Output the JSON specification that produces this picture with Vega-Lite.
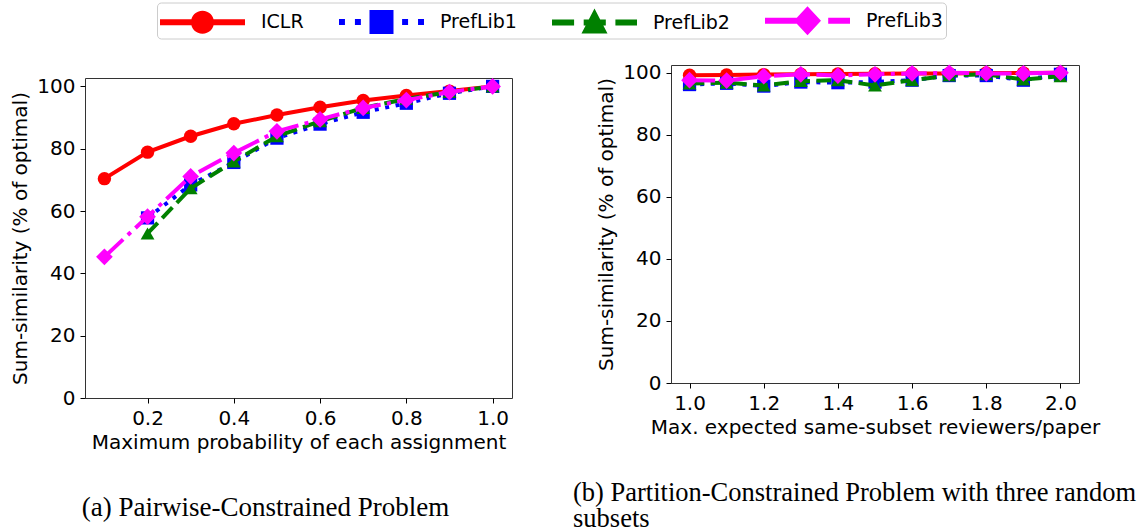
{
  "$schema": "https://vega.github.io/schema/vega-lite/v6.json",
  "padding": {"left": 10, "top": 2, "right": 0, "bottom": 0},
  "background": "white",
  "datasets": {
    "a": [
      {"series": "ICLR", "x": 0.1, "y": 70.4}, {"series": "ICLR", "x": 0.2, "y": 78.9}, {"series": "ICLR", "x": 0.3, "y": 84.0}, {"series": "ICLR", "x": 0.4, "y": 88.0}, {"series": "ICLR", "x": 0.5, "y": 90.8}, {"series": "ICLR", "x": 0.6, "y": 93.3}, {"series": "ICLR", "x": 0.7, "y": 95.5}, {"series": "ICLR", "x": 0.8, "y": 97.1}, {"series": "ICLR", "x": 0.9, "y": 98.5}, {"series": "ICLR", "x": 1.0, "y": 100},
      {"series": "PrefLib1", "x": 0.2, "y": 57.8}, {"series": "PrefLib1", "x": 0.3, "y": 68.4}, {"series": "PrefLib1", "x": 0.4, "y": 75.6}, {"series": "PrefLib1", "x": 0.5, "y": 83.4}, {"series": "PrefLib1", "x": 0.6, "y": 87.9}, {"series": "PrefLib1", "x": 0.7, "y": 91.7}, {"series": "PrefLib1", "x": 0.8, "y": 94.6}, {"series": "PrefLib1", "x": 0.9, "y": 97.8}, {"series": "PrefLib1", "x": 1.0, "y": 100},
      {"series": "PrefLib2", "x": 0.2, "y": 52.8}, {"series": "PrefLib2", "x": 0.3, "y": 67.3}, {"series": "PrefLib2", "x": 0.4, "y": 75.9}, {"series": "PrefLib2", "x": 0.5, "y": 84.0}, {"series": "PrefLib2", "x": 0.6, "y": 88.8}, {"series": "PrefLib2", "x": 0.7, "y": 93.1}, {"series": "PrefLib2", "x": 0.8, "y": 96.0}, {"series": "PrefLib2", "x": 0.9, "y": 98.2}, {"series": "PrefLib2", "x": 1.0, "y": 100},
      {"series": "PrefLib3", "x": 0.1, "y": 45.3}, {"series": "PrefLib3", "x": 0.2, "y": 58.2}, {"series": "PrefLib3", "x": 0.3, "y": 71.1}, {"series": "PrefLib3", "x": 0.4, "y": 78.6}, {"series": "PrefLib3", "x": 0.5, "y": 85.6}, {"series": "PrefLib3", "x": 0.6, "y": 89.4}, {"series": "PrefLib3", "x": 0.7, "y": 93.1}, {"series": "PrefLib3", "x": 0.8, "y": 95.6}, {"series": "PrefLib3", "x": 0.9, "y": 98.2}, {"series": "PrefLib3", "x": 1.0, "y": 100}
    ],
    "b": [
      {"series": "ICLR", "x": 1.0, "y": 99.2}, {"series": "ICLR", "x": 1.1, "y": 99.3}, {"series": "ICLR", "x": 1.2, "y": 99.4}, {"series": "ICLR", "x": 1.3, "y": 99.5}, {"series": "ICLR", "x": 1.4, "y": 99.6}, {"series": "ICLR", "x": 1.5, "y": 99.7}, {"series": "ICLR", "x": 1.6, "y": 99.8}, {"series": "ICLR", "x": 1.7, "y": 99.8}, {"series": "ICLR", "x": 1.8, "y": 99.9}, {"series": "ICLR", "x": 1.9, "y": 99.9}, {"series": "ICLR", "x": 2.0, "y": 100},
      {"series": "PrefLib1", "x": 1.0, "y": 96.2}, {"series": "PrefLib1", "x": 1.1, "y": 96.6}, {"series": "PrefLib1", "x": 1.2, "y": 95.7}, {"series": "PrefLib1", "x": 1.3, "y": 97.0}, {"series": "PrefLib1", "x": 1.4, "y": 96.8}, {"series": "PrefLib1", "x": 1.5, "y": 97.0}, {"series": "PrefLib1", "x": 1.6, "y": 97.6}, {"series": "PrefLib1", "x": 1.7, "y": 99.1}, {"series": "PrefLib1", "x": 1.8, "y": 99.1}, {"series": "PrefLib1", "x": 1.9, "y": 97.6}, {"series": "PrefLib1", "x": 2.0, "y": 99.5},
      {"series": "PrefLib2", "x": 1.0, "y": 96.5}, {"series": "PrefLib2", "x": 1.1, "y": 96.8}, {"series": "PrefLib2", "x": 1.2, "y": 95.9}, {"series": "PrefLib2", "x": 1.3, "y": 97.3}, {"series": "PrefLib2", "x": 1.4, "y": 97.6}, {"series": "PrefLib2", "x": 1.5, "y": 95.9}, {"series": "PrefLib2", "x": 1.6, "y": 97.6}, {"series": "PrefLib2", "x": 1.7, "y": 99.1}, {"series": "PrefLib2", "x": 1.8, "y": 99.5}, {"series": "PrefLib2", "x": 1.9, "y": 97.8}, {"series": "PrefLib2", "x": 2.0, "y": 98.9},
      {"series": "PrefLib3", "x": 1.0, "y": 97.6}, {"series": "PrefLib3", "x": 1.1, "y": 97.5}, {"series": "PrefLib3", "x": 1.2, "y": 98.9}, {"series": "PrefLib3", "x": 1.3, "y": 99.5}, {"series": "PrefLib3", "x": 1.4, "y": 99.1}, {"series": "PrefLib3", "x": 1.5, "y": 99.5}, {"series": "PrefLib3", "x": 1.6, "y": 99.8}, {"series": "PrefLib3", "x": 1.7, "y": 100}, {"series": "PrefLib3", "x": 1.8, "y": 99.8}, {"series": "PrefLib3", "x": 1.9, "y": 99.8}, {"series": "PrefLib3", "x": 2.0, "y": 100}
    ]
  },
  "config": {
    "view": {"stroke": "#333333", "strokeWidth": 1},
    "axis": {
      "grid": false, "domain": false, "tickColor": "black", "tickSize": 5, "tickWidth": 1,
      "labelFont": "DejaVu Sans", "labelFontSize": 20, "labelColor": "black", "labelPadding": 5, "labelFlush": false,
      "titleFont": "DejaVu Sans", "titleFontSize": 20, "titleFontWeight": "normal", "titleColor": "black"
    },
    "axisX": {"titlePadding": 4, "labelPadding": 5},
    "axisY": {"titlePadding": 6},
    "legend": {
      "labelFont": "DejaVu Sans", "labelFontSize": 19, "labelColor": "black", "labelOffset": 71,
      "symbolSize": 900, "symbolStrokeWidth": 0, "columnPadding": 35, "padding": 3,
      "strokeColor": "#cccccc", "cornerRadius": 4, "fillColor": "white", "direction": "horizontal", "columns": 4
    },
    "title": {"font": "Liberation Serif", "fontSize": 27, "fontWeight": "normal", "color": "black"}
  },
  "resolve": {"scale": {"color": "shared", "shape": "shared"}},
  "spacing": 59,
  "hconcat": [
    {
      "spacing": 0,
      "resolve": {"scale": {"color": "shared", "shape": "shared"}},
      "vconcat": [
        {"width": 427, "height": 10, "data": {"values": []}, "mark": {"type": "point", "opacity": 0}, "view": {"stroke": null}},
        {
          "width": 427, "height": 320,
          "data": {"name": "a"},
          "title": {"text": "(a) Pairwise-Constrained Problem", "orient": "bottom", "anchor": "middle", "frame": "group", "dx": -33, "offset": 43},
          "encoding": {
            "x": {"field": "x", "type": "quantitative", "scale": {"domain": [0.055, 1.045], "nice": false, "zero": false}, "axis": {"title": "Maximum probability of each assignment", "values": [0.2, 0.4, 0.6, 0.8, 1.0], "format": ".1f"}},
            "y": {"field": "y", "type": "quantitative", "scale": {"domain": [0, 102.7], "nice": false, "zero": false}, "axis": {"title": "Sum-similarity (% of optimal)", "values": [0, 20, 40, 60, 80, 100]}}
          },
          "layer": [
            {"transform": [{"filter": {"field": "series", "equal": "ICLR"}}], "mark": {"type": "line", "color": "#ff0000", "strokeWidth": 4}, "encoding": {}},
            {"transform": [{"filter": {"field": "series", "equal": "ICLR"}}], "mark": {"type": "point", "filled": true, "opacity": 1, "shape": "circle", "size": 180, "color": "#ff0000"}, "encoding": {}},
            {"transform": [{"filter": {"field": "series", "equal": "PrefLib1"}}], "mark": {"type": "line", "color": "#0000ff", "strokeWidth": 4, "strokeDash": [4, 6.6]}, "encoding": {}},
            {"transform": [{"filter": {"field": "series", "equal": "PrefLib1"}}], "mark": {"type": "point", "filled": true, "opacity": 1, "shape": "square", "size": 175, "color": "#0000ff"}, "encoding": {}},
            {"transform": [{"filter": {"field": "series", "equal": "PrefLib2"}}], "mark": {"type": "line", "color": "#008000", "strokeWidth": 4, "strokeDash": [14.8, 6.4]}, "encoding": {}},
            {"transform": [{"filter": {"field": "series", "equal": "PrefLib2"}}], "mark": {"type": "point", "filled": true, "opacity": 1, "shape": "triangle-up", "size": 190, "color": "#008000"}, "encoding": {}},
            {"transform": [{"filter": {"field": "series", "equal": "PrefLib3"}}], "mark": {"type": "line", "color": "#ff00ff", "strokeWidth": 4, "strokeDash": [25.6, 6.4, 4, 6.4]}, "encoding": {}},
            {"transform": [{"filter": {"field": "series", "equal": "PrefLib3"}}], "mark": {"type": "point", "filled": true, "opacity": 1, "shape": "diamond", "size": 280, "color": "#ff00ff"}, "encoding": {}},
            {
              "transform": [{"filter": "false"}],
              "mark": {"type": "point", "filled": true, "opacity": 1},
              "encoding": {
                "color": {"field": "series", "type": "nominal", "scale": {"domain": ["ICLR", "PrefLib1", "PrefLib2", "PrefLib3"], "range": ["#ff0000", "#0000ff", "#008000", "#ff00ff"]}, "legend": {"title": null, "orient": "none", "legendX": 72, "legendY": -62.5}},
                "shape": {"field": "series", "type": "nominal", "scale": {"domain": ["ICLR", "PrefLib1", "PrefLib2", "PrefLib3"], "range": [
                  "M-1,-0.2H4.667V0.2H-1Z M2.6,0A0.767,0.767 0 1,1 1.066,0A0.767,0.767 0 1,1 2.6,0Z",
                  "M-1,-0.2H-0.603V0.2H-1Z M0.062,-0.2H0.459V0.2H0.062Z M1.033,-0.8H2.633V0.8H1.033Z M3.207,-0.2H3.604V0.2H3.207Z M4.269,-0.2H4.667V0.2H4.269Z",
                  "M-1,-0.2H0.473V0.2H-1Z M1.113,-0.2H2.587V0.2H1.113Z M3.227,-0.2H4.667V0.2H3.227Z M1.833,-0.93L2.7,0.73L0.966,0.73Z",
                  "M-1,-0.2H1.533V0.2H-1Z M3.213,-0.2H4.667V0.2H3.213Z M1.833,-0.97L2.733,0L1.833,0.97L0.933,0Z"
                ]}, "legend": {"title": null, "orient": "none", "legendX": 72, "legendY": -62.5}}
              }
            }
          ]
        }
      ]
    },
    {
      "width": 408, "height": 318,
      "data": {"name": "b"},
      "title": {"text": ["(b) Partition-Constrained Problem with three random", "subsets"], "orient": "bottom", "anchor": "start", "frame": "group", "dx": -98, "offset": 42.5, "lineHeight": 26, "fontSize": 26.5},
      "encoding": {
        "x": {"field": "x", "type": "quantitative", "scale": {"domain": [0.95, 2.05], "nice": false, "zero": false}, "axis": {"title": "Max. expected same-subset reviewers/paper", "values": [1.0, 1.2, 1.4, 1.6, 1.8, 2.0], "format": ".1f"}},
        "y": {"field": "y", "type": "quantitative", "scale": {"domain": [0, 102.5], "nice": false, "zero": false}, "axis": {"title": "Sum-similarity (% of optimal)", "values": [0, 20, 40, 60, 80, 100]}}
      },
      "layer": [
        {"transform": [{"filter": {"field": "series", "equal": "ICLR"}}], "mark": {"type": "line", "color": "#ff0000", "strokeWidth": 4}, "encoding": {}},
        {"transform": [{"filter": {"field": "series", "equal": "ICLR"}}], "mark": {"type": "point", "filled": true, "opacity": 1, "shape": "circle", "size": 180, "color": "#ff0000"}, "encoding": {}},
        {"transform": [{"filter": {"field": "series", "equal": "PrefLib1"}}], "mark": {"type": "line", "color": "#0000ff", "strokeWidth": 4, "strokeDash": [4, 6.6]}, "encoding": {}},
        {"transform": [{"filter": {"field": "series", "equal": "PrefLib1"}}], "mark": {"type": "point", "filled": true, "opacity": 1, "shape": "square", "size": 175, "color": "#0000ff"}, "encoding": {}},
        {"transform": [{"filter": {"field": "series", "equal": "PrefLib2"}}], "mark": {"type": "line", "color": "#008000", "strokeWidth": 4, "strokeDash": [14.8, 6.4]}, "encoding": {}},
        {"transform": [{"filter": {"field": "series", "equal": "PrefLib2"}}], "mark": {"type": "point", "filled": true, "opacity": 1, "shape": "triangle-up", "size": 190, "color": "#008000"}, "encoding": {}},
        {"transform": [{"filter": {"field": "series", "equal": "PrefLib3"}}], "mark": {"type": "line", "color": "#ff00ff", "strokeWidth": 4, "strokeDash": [25.6, 6.4, 4, 6.4]}, "encoding": {}},
        {"transform": [{"filter": {"field": "series", "equal": "PrefLib3"}}], "mark": {"type": "point", "filled": true, "opacity": 1, "shape": "diamond", "size": 280, "color": "#ff00ff"}, "encoding": {}}
      ]
    }
  ]
}
